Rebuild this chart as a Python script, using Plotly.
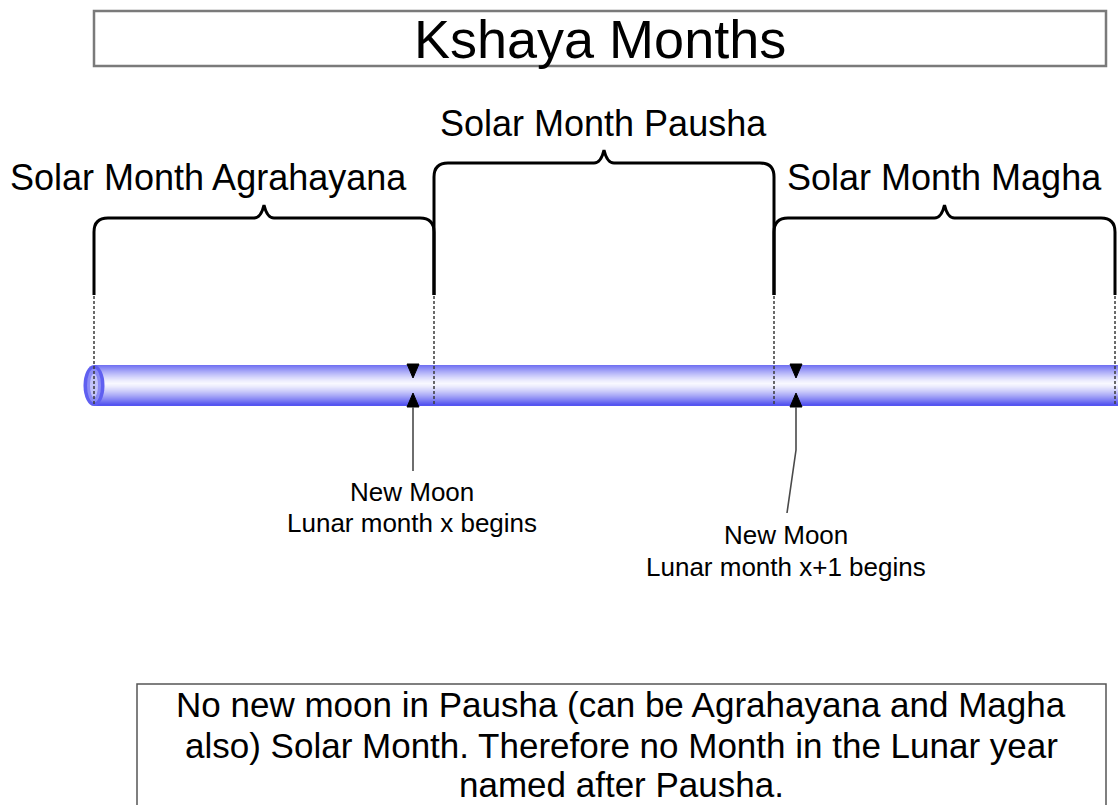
import plotly.graph_objects as go

# ---- diagram content ----
title_text = "Kshaya Months"
month_names = ["Solar Month Agrahayana", "Solar Month Pausha", "Solar Month Magha"]
month_bounds = [94, 434, 774, 1115]          # solar month boundaries along the time tube
brace_tops = [218, 163, 218]                 # height level of each brace
label_pos = [(208, 177), (603, 123), (944, 177)]
new_moon_x = [413, 796]
moon_labels = [["New Moon", "Lunar month x begins"], ["New Moon", "Lunar month x+1 begins"]]
moon_label_pos = [(412, [492, 523]), (786, [535, 567])]
note_lines = ["No new moon in Pausha (can be Agrahayana and Magha",
              "also) Solar Month. Therefore no Month in the Lunar year",
              "named after Pausha."]
note_line_y = [704, 745, 784]

W, H = 1118, 805
FONT = "Liberation Sans, Arial, sans-serif"

fig = go.Figure()
fig.add_trace(go.Scatter(x=[0, W], y=[0, H], mode="markers", marker=dict(opacity=0), hoverinfo="skip", showlegend=False))

shapes = []
annotations = []

# title box
shapes.append(dict(type="rect", x0=94, x1=1106, y0=11, y1=66, line=dict(color="#7a7a7a", width=2.5), fillcolor="white"))
annotations.append(dict(x=600, y=39, text=title_text, showarrow=False, font=dict(family=FONT, size=54, color="black"), xanchor="center", yanchor="middle"))

# braces
def brace_path(x0, x1, yt, yb=295, r=14, h=13, pw=10):
    xm = (x0 + x1) / 2
    return (f"M {x0},{yb} L {x0},{yt + r} Q {x0},{yt} {x0 + r},{yt} "
            f"L {xm - pw},{yt} Q {xm - 3},{yt} {xm},{yt - h} Q {xm + 3},{yt} {xm + pw},{yt} "
            f"L {x1 - r},{yt} Q {x1},{yt} {x1},{yt + r} L {x1},{yb}")

for i in range(3):
    shapes.append(dict(type="path", path=brace_path(month_bounds[i], month_bounds[i + 1], brace_tops[i]),
                       line=dict(color="black", width=3)))
    annotations.append(dict(x=label_pos[i][0], y=label_pos[i][1], text=month_names[i], showarrow=False,
                            font=dict(family=FONT, size=36, color="black"), xanchor="center", yanchor="middle"))

# tube with vertical gradient
ty0, ty1, tc = 365, 406, 383.5
def tube_color(y):
    t = min(1.0, abs(y - tc) / 21.0)
    t = t ** 1.3
    r = 248 + (85 - 248) * t
    g = 248 + (85 - 248) * t
    b = 255 + (240 - 255) * t
    return f"rgb({int(r)},{int(g)},{int(b)})"

for k in range(ty1 - ty0):
    y = ty0 + k
    shapes.append(dict(type="rect", x0=94, x1=W + 2, y0=y, y1=y + 1.05, line=dict(width=0), fillcolor=tube_color(y + 0.5)))

# left end ellipse
for (rx, ry, col) in [(10.5, 20.5, "rgb(95,95,240)"), (7, 17, "rgb(140,140,245)"), (4, 12, "rgb(195,195,250)")]:
    shapes.append(dict(type="circle", x0=94 - rx, x1=94 + rx, y0=385.5 - ry, y1=385.5 + ry,
                       line=dict(width=0), fillcolor=col))

# dashed boundary lines
for xb in month_bounds:
    shapes.append(dict(type="line", x0=xb, x1=xb, y0=296, y1=406, line=dict(color="#3a3a3a", width=1.5, dash="3px,2px")))

# new moon markers
for j, xm in enumerate(new_moon_x):
    shapes.append(dict(type="path", path=f"M {xm - 6},{364} L {xm + 6},{364} L {xm},{378} Z",
                       fillcolor="black", line=dict(color="black", width=1)))
    shapes.append(dict(type="path", path=f"M {xm - 6},{407} L {xm + 6},{407} L {xm},{393} Z",
                       fillcolor="black", line=dict(color="black", width=1)))
    if j == 0:
        p = f"M {xm},407 L {xm},471"
    else:
        p = f"M {xm},407 L {xm},450 L {xm - 9},513"
    shapes.append(dict(type="path", path=p, line=dict(color="#4a4a4a", width=1.6)))
    cx, ys = moon_label_pos[j]
    for line_text, yy in zip(moon_labels[j], ys):
        annotations.append(dict(x=cx, y=yy, text=line_text, showarrow=False,
                                font=dict(family=FONT, size=26, color="black"), xanchor="center", yanchor="middle"))

# note box
shapes.append(dict(type="rect", x0=137, x1=1106, y0=684, y1=812, line=dict(color="#555555", width=1.5), fillcolor="white"))
for line_text, yy in zip(note_lines, note_line_y):
    annotations.append(dict(x=621, y=yy, text=line_text, showarrow=False,
                            font=dict(family=FONT, size=35, color="black"), xanchor="center", yanchor="middle"))

fig.update_layout(
    width=W, height=H, margin=dict(l=0, r=0, t=0, b=0),
    paper_bgcolor="white", plot_bgcolor="white",
    xaxis=dict(range=[0, W], visible=False, fixedrange=True),
    yaxis=dict(range=[H, 0], visible=False, fixedrange=True),
    shapes=shapes, annotations=annotations, showlegend=False,
)

fig.write_html("out.html", config={"displayModeBar": False},
               post_script="document.body.style.margin='0px';document.body.style.overflow='hidden';")
